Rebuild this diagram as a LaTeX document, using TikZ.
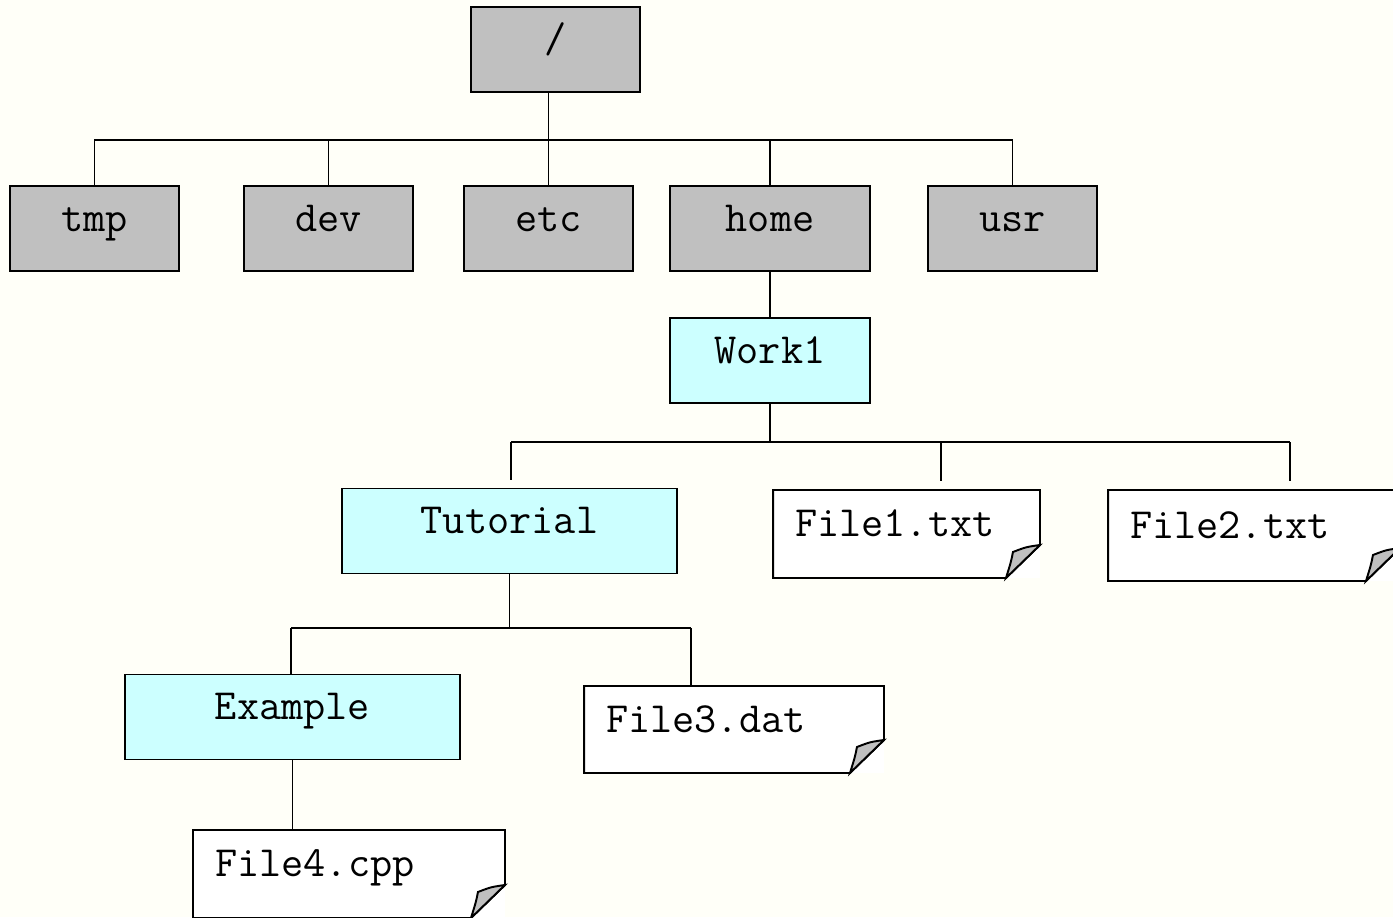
\documentclass[tikz,border=0pt]{standalone}
\usepackage{fontspec}
\usepackage{tikz}
\usetikzlibrary{calc}
\definecolor{dirgray}{HTML}{C0C0C0}
\definecolor{subcyan}{HTML}{CCFFFF}
\definecolor{pagecream}{HTML}{FFFFF8}
\tikzset{
  tree line/.style={line width=1pt},
  dirbox/.style={draw, line width=1.1pt, fill=dirgray, minimum width=3.38cm,
    minimum height=1.7cm, inner sep=0pt, outer sep=0pt, text height=13pt,
    text depth=10pt, font=\ttfamily\fontsize{24.5}{28}\selectfont},
  subbox/.style={dirbox, fill=subcyan},
  filebox/.style={fill=white, text width=#1, align=left, inner xsep=0.44cm,
    inner ysep=0pt, outer sep=0pt, minimum height=1.76cm, text height=13pt,
    text depth=10pt, font=\ttfamily\fontsize{24.5}{28}\selectfont}
}
% outline of a file with its turned-down corner
\newcommand{\dogear}[1]{%
  \draw[line width=1.1pt] (#1.south west) -- (#1.north west) -- (#1.north east)
    -- ($(#1.south east)+(0,-33)$) -- ($(#1.south east)+(-34,0)$) -- cycle;
  \draw[line width=1.1pt, fill=dirgray] ($(#1.south east)+(0,-33)$)
    .. controls +(-14,2) .. ($(#1.south east)+(-27,-26)$)
    .. controls +(-2,10) .. ($(#1.south east)+(-34,0)$) -- cycle;
}
\begin{document}
\begin{tikzpicture}[x=0.02cm, y=-0.02cm]
  \fill[pagecream] (0,0) rectangle (1393,917);
  \clip (0,0) rectangle (1393,917);
  % directories
  \node[dirbox] (root) at (555.5,49.5) {/};
  \node[dirbox] (tmp) at (94.5,228.5) {tmp};
  \node[dirbox] (dev) at (328.5,228.5) {dev};
  \node[dirbox] (etc) at (548.5,228.5) {etc};
  \node[dirbox, minimum width=4cm] (home) at (770,228.5) {home};
  \node[dirbox] (usr) at (1012.5,228.5) {usr};
  \node[subbox, minimum width=4cm] (work) at (770,360.5) {Work1};
  \node[subbox, minimum width=6.7cm] (tut) at (509.5,531) {Tutorial};
  \node[subbox, minimum width=6.7cm] (ex) at (292.5,717) {Example};
  % files
  \node[filebox=4.46cm] (file1) at (906.5,534) {File1.txt};
  \node[filebox=4.96cm, minimum height=1.82cm] (file2) at (1254,535.5) {File2.txt};
  \node[filebox=5.12cm, minimum height=1.74cm] (file3) at (734,729.5) {File3.dat};
  \node[filebox=5.36cm] (file4) at (349,874) {File4.cpp};
  \foreach \f in {file1,file2,file3,file4} \dogear{\f}
  % first level
  \coordinate (bus1) at (0,140);
  \draw[tree line] (etc.north) -- (etc.north |- root.south);
  \draw[tree line] (tmp.north) -- (tmp.north |- bus1) -| (usr.north);
  \foreach \d in {dev,home} \draw[tree line] (\d.north) -- (\d.north |- bus1);
  \draw[tree line] (home.south) -- (work.north);
  % Work1
  \coordinate (bus2w) at (511,442);
  \coordinate (bus2e) at (1290,442);
  \coordinate (drop1) at (941,442);
  \draw[tree line] (work.south) -- (work.south |- bus2w);
  \draw[tree line] (bus2w) -- (bus2e);
  \foreach \c/\n in {bus2w/tut, drop1/file1, bus2e/file2}
    \draw[tree line] (\c) -- ($(\c |- \n.north)+(0,-9)$);
  % Tutorial
  \coordinate (bus3w) at (291,628);
  \coordinate (bus3e) at (691,628);
  \draw[tree line] (tut.south) -- (tut.south |- bus3w);
  \draw[tree line] (bus3w) -- (bus3e);
  \draw[tree line] (bus3w) -- (bus3w |- ex.north);
  \draw[tree line] (bus3e) -- (bus3e |- file3.north);
  \draw[tree line] (ex.south) -- (ex.south |- file4.north);
\end{tikzpicture}
\end{document}
